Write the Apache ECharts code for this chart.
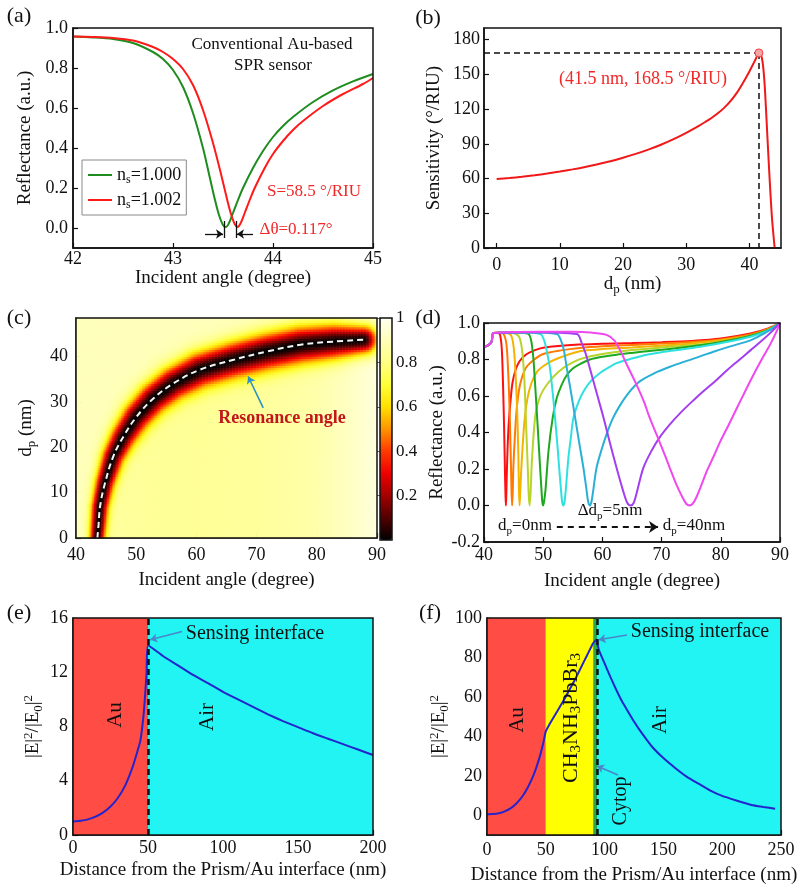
<!DOCTYPE html>
<html>
<head>
<meta charset="utf-8">
<script src="https://cdn.jsdelivr.net/npm/echarts@6.0.0/dist/echarts.min.js"></script>
<style>
  html, body { margin: 0; padding: 0; background: #fff; }
  #chart { width: 800px; height: 892px; }
</style>
</head>
<body>
<div id="chart"></div>
<script>
// ---------- (a) reflectance of the conventional Au sensor ----------
var aGreen = [[42.0,0.957],[42.2,0.953],[42.4,0.945],[42.6,0.925],[42.8,0.88],[42.9,0.845],[43.0,0.79],[43.1,0.705],[43.2,0.575],[43.3,0.4],[43.36,0.27],[43.42,0.14],[43.46,0.065],[43.5,0.015],[43.53,0.005],[43.56,0.025],[43.6,0.075],[43.65,0.14],[43.7,0.2],[43.8,0.3],[43.9,0.385],[44.0,0.455],[44.1,0.51],[44.2,0.555],[44.4,0.63],[44.6,0.688],[44.8,0.733],[45.0,0.77]];
var aRed = [[42.0,0.957],[42.2,0.955],[42.4,0.95],[42.6,0.937],[42.8,0.905],[42.9,0.88],[43.0,0.845],[43.1,0.795],[43.2,0.715],[43.3,0.59],[43.4,0.425],[43.48,0.27],[43.54,0.145],[43.58,0.07],[43.617,0.02],[43.647,0.005],[43.677,0.025],[43.717,0.075],[43.767,0.14],[43.817,0.2],[43.917,0.3],[44.0,0.37],[44.1,0.435],[44.2,0.49],[44.3,0.535],[44.5,0.61],[44.7,0.67],[44.9,0.72],[45.0,0.75]];
var aMinAngles = [43.51, 43.63];
var aXTicks = [42, 43, 44, 45];
var aYTicks = [0, 0.2, 0.4, 0.6, 0.8, 1.0];

// ---------- (b) sensitivity vs perovskite thickness ----------
var bSens = [[0,59.5],[2,60.4],[4,61.5],[6,62.8],[8,64.3],[10,66],[12,67.9],[14,70],[16,72.4],[18,75],[20,78],[22,81.3],[24,85],[26,89.2],[28,94],[30,99.5],[32,105.5],[33,108.8],[34,112.3],[35,116.3],[36,121],[37,126.8],[38,134],[39,142.8],[40,152.5],[40.5,157.8],[41,163.2],[41.5,168.5],[41.8,167.5],[42.1,160],[42.4,142],[42.7,112],[43.0,80],[43.3,50],[43.6,24],[44.0,0]];
var bPeak = [41.5, 168.5];
var bXTicks = [0, 10, 20, 30, 40];
var bYTicks = [0, 30, 60, 90, 120, 150, 180];

// ---------- (c) reflectance map ----------
var resDp    = [0, 3, 7, 12, 18, 22.4, 26.8, 30.8, 34.1, 37.1, 39.3, 41.1, 42.6, 43.3, 43.7];
var resAngle = [43.55, 43.75, 44.0, 44.8, 46.2, 47.9, 50.1, 52.9, 56.2, 60.6, 66.2, 71.7, 77.3, 82.8, 87.8];
var bandHalf = [7.5, 8, 8.5, 9.5, 11, 12.5, 14, 15, 16, 17, 17.5, 18, 18, 17, 14];
var bgAngle  = [40, 50, 60, 70, 80, 85, 90];
var bgBelow  = [0.85, 0.84, 0.83, 0.84, 0.87, 0.91, 0.96];
var bgAbove  = 0.9;
var cXTicks = [40, 50, 60, 70, 80, 90];
var cYTicks = [0, 10, 20, 30, 40];
var cBarTicks = [0.2, 0.4, 0.6, 0.8, 1];

// ---------- (d) reflectance for dp = 0..40 nm ----------
var dNames = ['0 nm','5 nm','10 nm','15 nm','20 nm','25 nm','30 nm','35 nm','40 nm'];
var dColors = ['#ff1010','#ff7a00','#f2b400','#b8d42a','#1fa81f','#2ee0e0','#2ab0d6','#a33ff0','#f048f0'];
var dCurve0 = [[40,0.87],[40.5,0.875],[41,0.885],[41.3,0.9],[41.6,0.945],[42.3,0.945],[42.7,0.935],[43.0,0.86],[43.2,0.68],[43.4,0.42],[43.55,0.17],[43.64,0.05],[43.7,0.0],[43.76,0.05],[43.85,0.17],[44.0,0.33],[44.2,0.46],[44.5,0.58],[44.8,0.67],[45.3,0.74],[46,0.79],[47,0.825],[48.5,0.85],[50,0.865],[56,0.882],[60,0.886],[65,0.89],[70,0.895],[75,0.902],[80,0.915],[85,0.942],[88,0.97],[90,1.0]];
var dCurve5 = [[40,0.87],[40.5,0.875],[41,0.885],[41.3,0.9],[41.6,0.945],[42.5,0.948],[43.3,0.94],[43.8,0.88],[44.1,0.72],[44.3,0.55],[44.5,0.3],[44.65,0.08],[44.75,0.0],[44.85,0.07],[44.95,0.2],[45.2,0.37],[45.5,0.52],[45.9,0.63],[46.4,0.7],[47.2,0.76],[48.5,0.8],[50,0.83],[53,0.85],[56.2,0.863],[60,0.872],[65,0.88],[70,0.887],[75,0.896],[80,0.91],[85,0.937],[88,0.967],[90,1.0]];
var dCurve10 = [[40,0.87],[40.5,0.875],[41,0.885],[41.3,0.9],[41.6,0.945],[43,0.948],[44.5,0.935],[45.0,0.87],[45.3,0.74],[45.6,0.52],[45.8,0.28],[45.9,0.09],[46.0,0.0],[46.12,0.07],[46.3,0.2],[46.8,0.45],[47.3,0.58],[48,0.67],[49,0.735],[50.3,0.77],[52,0.8],[56.2,0.845],[60,0.857],[65,0.866],[70,0.876],[75,0.888],[80,0.905],[85,0.932],[88,0.965],[90,1.0]];
var dCurve15 = [[40,0.87],[40.5,0.875],[41,0.885],[41.3,0.9],[41.6,0.945],[44,0.948],[45.8,0.93],[46.4,0.86],[46.8,0.7],[47.1,0.45],[47.4,0.2],[47.55,0.06],[47.7,0.0],[47.87,0.07],[48.1,0.25],[48.7,0.5],[49.5,0.6],[50.8,0.67],[52.5,0.73],[54.2,0.77],[56.5,0.805],[60,0.83],[65,0.852],[70,0.866],[75,0.878],[80,0.895],[85,0.928],[88,0.962],[90,1.0]];
var dCurve20 = [[40,0.87],[40.5,0.875],[41,0.885],[41.3,0.9],[41.6,0.945],[45,0.948],[47.5,0.94],[48.2,0.85],[48.6,0.68],[49.0,0.47],[49.4,0.25],[49.7,0.09],[49.85,0.02],[50.0,0.0],[50.17,0.025],[50.4,0.09],[50.9,0.3],[51.6,0.48],[52.3,0.59],[53.1,0.66],[54.0,0.715],[55.1,0.753],[56.2,0.775],[57.9,0.8],[60,0.815],[62.4,0.826],[65,0.836],[67.5,0.845],[70,0.853],[74.2,0.868],[78,0.885],[81.6,0.905],[85,0.93],[88,0.962],[90,1.0]];
var dCurve25 = [[40,0.87],[40.5,0.875],[41,0.885],[41.3,0.9],[41.6,0.945],[46,0.948],[49.5,0.94],[50.2,0.9],[50.7,0.83],[51.15,0.75],[51.6,0.62],[52.0,0.48],[52.4,0.33],[52.7,0.205],[53.0,0.09],[53.2,0.02],[53.4,0.0],[53.6,0.02],[53.8,0.08],[54.25,0.26],[54.7,0.38],[55.1,0.48],[56.0,0.57],[56.8,0.625],[58,0.68],[59.6,0.726],[61,0.755],[62.4,0.78],[65,0.805],[67.5,0.826],[70,0.84],[73.1,0.854],[77,0.872],[81.6,0.9],[85,0.925],[88,0.96],[90,1.0]];
var dCurve30 = [[40,0.87],[40.5,0.875],[41,0.885],[41.3,0.9],[41.6,0.945],[47,0.948],[52.3,0.94],[53.0,0.905],[53.5,0.85],[54.0,0.75],[54.7,0.62],[55.4,0.48],[56.1,0.34],[56.8,0.205],[57.3,0.09],[57.6,0.02],[57.9,0.0],[58.15,0.02],[58.4,0.07],[59.0,0.205],[59.8,0.3],[60.7,0.39],[61.8,0.48],[63.0,0.55],[64.5,0.62],[66.3,0.68],[68.8,0.725],[71.4,0.76],[74,0.79],[76.5,0.817],[79,0.845],[81.6,0.872],[85,0.905],[88,0.955],[90,1.0]];
var dCurve35 = [[40,0.87],[40.5,0.875],[41,0.885],[41.3,0.9],[41.6,0.945],[48,0.95],[55.7,0.94],[56.5,0.89],[57.2,0.83],[57.9,0.75],[59.0,0.62],[60.2,0.48],[61.3,0.34],[62.4,0.205],[63.5,0.08],[64.2,0.015],[64.8,0.0],[65.3,0.015],[65.8,0.07],[66.9,0.205],[68.3,0.3],[69.7,0.375],[71.4,0.445],[73.1,0.505],[75,0.565],[77,0.625],[79,0.68],[81,0.74],[83,0.795],[85,0.85],[87,0.905],[88.5,0.95],[90,1.0]];
var dCurve40 = [[40,0.87],[40.5,0.875],[41,0.885],[41.3,0.9],[41.6,0.945],[50,0.952],[55,0.952],[58,0.948],[60.7,0.935],[62,0.905],[63,0.85],[64.3,0.76],[65.8,0.66],[67,0.57],[68.0,0.48],[69.2,0.385],[70.3,0.297],[71.4,0.205],[72.5,0.114],[73.6,0.04],[74.2,0.008],[74.7,0.0],[75.2,0.008],[75.8,0.04],[76.7,0.11],[77.6,0.186],[78.8,0.27],[79.9,0.35],[81.3,0.44],[82.7,0.533],[84.1,0.625],[85.5,0.715],[86.9,0.8],[88.3,0.88],[89.5,0.96],[90,1.0]];
var dCurves = [dCurve0, dCurve5, dCurve10, dCurve15, dCurve20, dCurve25, dCurve30, dCurve35, dCurve40];
var dXTicks = [40, 50, 60, 70, 80, 90];
var dYTicks = [-0.2, 0, 0.2, 0.4, 0.6, 0.8, 1.0];

// ---------- (e) field in the conventional structure ----------
var eField = [[0,1.0],[5,1.05],[10,1.15],[15,1.35],[20,1.65],[25,2.1],[30,2.75],[35,3.7],[40,5.1],[43,6.2],[45,7.0],[47,8.8],[48,10.2],[49,11.9],[50,14.0],[60,13.2],[70,12.5],[80,11.8],[90,11.2],[100,10.55],[110,10.0],[120,9.45],[130,8.9],[140,8.4],[150,7.95],[160,7.5],[170,7.1],[180,6.7],[190,6.3],[200,5.9]];
var eLayers = [[0, 50, '#ff4d45'], [50, 200, '#22f4f4']];
var eInterface = 50;
var eXTicks = [0, 50, 100, 150, 200];
var eYTicks = [0, 4, 8, 12, 16];

// ---------- (f) field in the proposed structure ----------
var fField = [[0,0.5],[5,0.6],[10,1.0],[15,2.0],[20,3.5],[25,6.0],[30,9.5],[35,14.5],[40,21],[45,30],[48,37],[50,42.5],[55,48],[60,53],[65,58],[70,63.5],[75,69],[80,75],[85,81],[90,87],[93,89],[95,84],[100,77],[105,70],[110,63.5],[115,57.5],[120,52.5],[125,47.5],[130,43],[140,35],[150,29],[160,24],[170,19.5],[180,16],[190,12.5],[200,9.8],[212,7.5],[225,5.2],[235,4.2],[245,3.3]];
var fLayers = [[0, 50, '#ff4d45'], [50, 90.3, '#ffff00'], [90.3, 94, '#2ca64a'], [94, 250, '#22f4f4']];
var fInterface = 94;
var fXTicks = [0, 50, 100, 150, 200, 250];
var fYTicks = [0, 20, 40, 60, 80, 100];

// ---------- layout ----------
var FONT = "'Liberation Serif','Times New Roman',serif";
var INK = '#111';
var G = {
  a: {left: 73, top: 28, width: 300, height: 220},
  b: {left: 484, top: 28, width: 297, height: 220},
  c: {left: 76, top: 318, width: 301, height: 220},
  bar: {left: 380, top: 318, width: 12, height: 222},
  d: {left: 484, top: 323, width: 296, height: 219},
  e: {left: 73, top: 618, width: 300, height: 217},
  f: {left: 487, top: 618, width: 294, height: 217}
};

function rich(size, color, weight) {
  var sub = Math.round(size * 0.66);
  return {
    n: {fontFamily: FONT, fontSize: size, fontWeight: weight || 'normal', color: color, fill: color, lineHeight: size + 4, verticalAlign: 'middle'},
    b: {fontFamily: FONT, fontSize: sub, fontWeight: weight || 'normal', color: color, fill: color, lineHeight: sub, verticalAlign: 'bottom'},
    p: {fontFamily: FONT, fontSize: sub, fontWeight: weight || 'normal', color: color, fill: color, lineHeight: sub, verticalAlign: 'top'}
  };
}

function gridOf(r, border) {
  return {left: r.left, top: r.top, width: r.width, height: r.height, show: border !== false,
    borderColor: INK, borderWidth: 1.5, backgroundColor: 'transparent', z: 10,
    containLabel: false, outerBoundsMode: 'none'};
}

function axis(o) {
  return {
    type: 'value', gridIndex: o.g, min: o.min, max: o.max, position: o.pos,
    name: o.name || '', nameLocation: 'middle', nameGap: o.gap, nameRotate: o.rot || 0,
    nameTextStyle: {fontFamily: FONT, fontSize: 19, color: INK, rich: rich(19, INK)},
    axisLine: {show: true, onZero: false, lineStyle: {color: INK, width: 1.5}},
    axisTick: {show: true, inside: true, length: 5, customValues: o.ticks, lineStyle: {color: INK, width: 1.2}},
    axisLabel: {show: true, margin: o.margin, customValues: o.ticks, formatter: o.fmt,
      fontFamily: FONT, fontSize: 18, color: INK},
    splitLine: {show: false}
  };
}
function f1(v) { return v.toFixed(1); }
function f0(v) { return String(Math.round(v)); }

var heatX = [], heatY = [];
for (var a = 40.125; a < 90; a += 0.25) heatX.push(+a.toFixed(3));
for (var p = 0.25; p < 48.5; p += 0.5) heatY.push(+p.toFixed(3));
var kx = G.c.width / 50, ky = G.c.height / 48.5;

function lerp(xs, ys, x) {
  if (x <= xs[0]) return ys[0];
  for (var i = 1; i < xs.length; i++) {
    if (x <= xs[i]) return ys[i - 1] + (ys[i] - ys[i - 1]) * (x - xs[i - 1]) / (xs[i] - xs[i - 1]);
  }
  return ys[ys.length - 1];
}
function cellValue(ang, dp) {
  var px = (ang - 40) * kx, py = dp * ky, best = Infinity;
  for (var i = 0; i < resAngle.length - 1; i++) {
    var x1 = (resAngle[i] - 40) * kx, y1 = resDp[i] * ky;
    var dx = (resAngle[i + 1] - 40) * kx - x1, dy = resDp[i + 1] * ky - y1;
    var t = ((px - x1) * dx + (py - y1) * dy) / (dx * dx + dy * dy);
    t = Math.max(0, Math.min(1, t));
    var qx = x1 + t * dx - px, qy = y1 + t * dy - py;
    var s = bandHalf[i] + t * (bandHalf[i + 1] - bandHalf[i]);
    var q = Math.sqrt(qx * qx + qy * qy) / s;
    if (q < best) best = q;
  }
  var below = lerp(bgAngle, bgBelow, ang);
  var bg = (dp > resDp[resDp.length - 1] || ang < lerp(resDp, resAngle, dp)) ? Math.max(bgAbove, below) : below;
  return bg * (1 - Math.exp(-best * best));
}
var heatData = [];
for (var i = 0; i < heatX.length; i++) {
  for (var j = 0; j < heatY.length; j++) heatData.push([i, j, cellValue(heatX[i], heatY[j])]);
}
var resLine = resAngle.map(function (v, k) { return [v, resDp[k]]; });

// ---------- series ----------
var series = [];
series.push({name: 'ns=1.000', type: 'line', xAxisIndex: 0, yAxisIndex: 0, data: aGreen, smooth: 0.3,
  symbol: 'none', lineStyle: {color: '#1f8c1f', width: 2}, itemStyle: {color: '#1f8c1f'}, z: 3,
  markLine: {silent: true, symbol: 'none', label: {show: false}, lineStyle: {color: INK, width: 1.3, type: 'solid'},
    data: [
      [{coord: [aMinAngles[0], -0.05]}, {coord: [aMinAngles[0], 0.035]}],
      [{coord: [aMinAngles[1], -0.05]}, {coord: [aMinAngles[1], 0.035]}],
      [{coord: [43.32, -0.03], symbol: 'none'}, {coord: [aMinAngles[0] - 0.01, -0.03], symbol: 'arrow', symbolSize: 7}],
      [{coord: [43.8, -0.03], symbol: 'none'}, {coord: [aMinAngles[1] + 0.01, -0.03], symbol: 'arrow', symbolSize: 7}]
    ]}});
series.push({name: 'ns=1.002', type: 'line', xAxisIndex: 0, yAxisIndex: 0, data: aRed, smooth: 0.3,
  symbol: 'none', lineStyle: {color: '#ff1a1a', width: 2}, itemStyle: {color: '#ff1a1a'}, z: 3});

series.push({type: 'line', xAxisIndex: 1, yAxisIndex: 1, data: bSens, smooth: 0.3, symbol: 'none',
  lineStyle: {color: '#f01818', width: 2}, z: 3,
  markLine: {silent: true, symbol: 'none', label: {show: false}, lineStyle: {color: INK, width: 1.5, type: [6, 4]},
    data: [
      [{coord: [-2, bPeak[1]]}, {coord: [bPeak[0], bPeak[1]]}],
      [{coord: [bPeak[0], bPeak[1]]}, {coord: [bPeak[0], 0]}]
    ]},
  markPoint: {silent: true, symbol: 'circle', symbolSize: 8, label: {show: false},
    itemStyle: {color: '#f6a3a3', borderColor: '#f04040', borderWidth: 1},
    data: [{coord: bPeak}]}});

var heatIndex = series.length;
series.push({type: 'heatmap', xAxisIndex: 2, yAxisIndex: 2, data: heatData, progressive: 0, silent: true});

series.push({type: 'line', xAxisIndex: 3, yAxisIndex: 3, data: resLine, smooth: 0.4, symbol: 'none',
  lineStyle: {color: '#f4f4f4', width: 2, type: [6, 4]}, z: 4,
  markLine: {silent: true, label: {show: false}, lineStyle: {color: '#2a93c4', width: 1.6, type: 'solid'},
    data: [[{coord: [71.1, 28.7], symbol: 'none'}, {coord: [68.6, 35.6], symbol: 'arrow', symbolSize: 7}]]}});

dCurves.forEach(function (c, k) {
  var s = {name: dNames[k], type: 'line', xAxisIndex: 5, yAxisIndex: 5, data: c, smooth: 0.3, symbol: 'none',
    lineStyle: {color: dColors[k], width: 2}, z: 3};
  if (k === 0) {
    s.markLine = {silent: true, label: {show: false}, lineStyle: {color: INK, width: 2, type: [6, 5]},
      data: [[{coord: [52.3, -0.118], symbol: 'none'}, {coord: [69.4, -0.118], symbol: 'arrow', symbolSize: 9}]]};
  }
  series.push(s);
});

function layerSeries(idx, layers) {
  return {type: 'line', xAxisIndex: idx, yAxisIndex: idx, data: [], z: 1, silent: true,
    markArea: {silent: true, data: layers.map(function (l) {
      return [{xAxis: l[0], itemStyle: {color: l[2], opacity: 1}}, {xAxis: l[1]}];
    })}};
}
series.push(layerSeries(6, eLayers));
series.push({type: 'line', xAxisIndex: 6, yAxisIndex: 6, data: eField, smooth: 0.15, symbol: 'none',
  lineStyle: {color: '#2424cc', width: 2}, z: 3,
  markLine: {silent: true, label: {show: false}, symbol: 'none', data: [
    [{coord: [eInterface, 0], lineStyle: {color: INK, width: 2.5, type: [6, 4]}}, {coord: [eInterface, 16]}],
    [{coord: [72.7, 15.0], symbol: 'none', lineStyle: {color: '#4a86c8', width: 1.5, type: 'solid'}}, {coord: [51.5, 14.4], symbol: 'arrow', symbolSize: 7}]
  ]}});

series.push(layerSeries(7, fLayers));
series.push({type: 'line', xAxisIndex: 7, yAxisIndex: 7, data: fField, smooth: 0.15, symbol: 'none',
  lineStyle: {color: '#2424cc', width: 2}, z: 3,
  markLine: {silent: true, label: {show: false}, symbol: 'none', data: [
    [{coord: [fInterface, -10], lineStyle: {color: INK, width: 2.5, type: [6, 4]}}, {coord: [fInterface, 100]}],
    [{coord: [119, 91.4], symbol: 'none', lineStyle: {color: '#4a86c8', width: 1.5, type: 'solid'}}, {coord: [95, 89], symbol: 'arrow', symbolSize: 7}],
    [{coord: [111.4, 20.4], symbol: 'none', lineStyle: {color: '#4a86c8', width: 1.5, type: 'solid'}}, {coord: [93.5, 25], symbol: 'arrow', symbolSize: 7}]
  ]}});

// ---------- texts ----------
function txt(x, y, text, size, color, opts) {
  opts = opts || {};
  return {type: 'text', x: x, y: y, rotation: opts.rot || 0, z: 100, silent: true,
    style: {text: text, fill: color || INK, fontFamily: FONT, fontSize: size, fontWeight: opts.weight || 'normal',
      align: 'center', verticalAlign: 'middle', textAlign: 'center', textVerticalAlign: 'middle',
      rich: rich(size, color || INK, opts.weight)}};
}
var R90 = Math.PI / 2;
var graphics = [
  txt(19, 16, '(a)', 22), txt(428, 18, '(b)', 22), txt(19, 318, '(c)', 22),
  txt(428, 318, '(d)', 22), txt(19, 613, '(e)', 22), txt(430, 613, '(f)', 22),
  txt(272, 45, 'Conventional Au-based', 17), txt(273, 66, 'SPR sensor', 17),
  txt(314, 192, 'S=58.5 °/RIU', 17, '#f02828'), txt(296, 230, 'Δθ=0.117°', 17, '#f02828'),
  txt(643, 79, '(41.5 nm, 168.5 °/RIU)', 18, '#f02828'),
  txt(282, 418, 'Resonance angle', 18, '#c0161c', {weight: 'bold'}),
  txt(610, 511, '{n|Δd}{b|p}{n|=5nm}', 17),
  txt(525, 526, '{n|d}{b|p}{n|=0nm}', 17),
  txt(694, 526, '{n|d}{b|p}{n|=40nm}', 17),
  txt(115, 715, 'Au', 21, INK, {rot: R90}), txt(207, 717, 'Air', 21, INK, {rot: R90}),
  txt(255, 634, 'Sensing interface', 20),
  txt(517, 720, 'Au', 21, INK, {rot: R90}),
  txt(571, 718, '{n|CH}{b|3}{n|NH}{b|3}{n|PbBr}{b|3}', 22, INK, {rot: R90}),
  txt(621, 801, 'Cytop', 20, INK, {rot: R90}),
  txt(660, 720, 'Air', 21, INK, {rot: R90}),
  txt(700, 632, 'Sensing interface', 20)
];

var option = {
  animation: false,
  backgroundColor: '#fff',
  textStyle: {fontFamily: FONT},
  grid: [gridOf(G.a), gridOf(G.b), gridOf(G.c, false), gridOf(G.c), gridOf(G.bar), gridOf(G.d), gridOf(G.e), gridOf(G.f)],
  xAxis: [
    axis({g: 0, min: 42, max: 45, ticks: aXTicks, fmt: f0, margin: 2, name: 'Incident angle (degree)', gap: 16}),
    axis({g: 1, min: -2, max: 45, ticks: bXTicks, fmt: f0, margin: 8, name: '{n|d}{b|p}{n| (nm)}', gap: 21}),
    {type: 'category', gridIndex: 2, data: heatX, show: false, boundaryGap: true},
    axis({g: 3, min: 40, max: 90, ticks: cXTicks, fmt: f0, margin: 8, name: 'Incident angle (degree)', gap: 33}),
    {type: 'value', gridIndex: 4, show: false, min: 0, max: 1},
    axis({g: 5, min: 40, max: 90, ticks: dXTicks, fmt: f0, margin: 4, name: 'Incident angle (degree)', gap: 30}),
    axis({g: 6, min: 0, max: 200, ticks: eXTicks, fmt: f0, margin: 4, name: 'Distance from the Prism/Au interface (nm)', gap: 26}),
    axis({g: 7, min: 0, max: 250, ticks: fXTicks, fmt: f0, margin: 6, name: 'Distance from the Prism/Au interface (nm)', gap: 31})
  ],
  yAxis: [
    axis({g: 0, min: -0.1, max: 1.0, ticks: aYTicks, fmt: f1, margin: 5, name: 'Reflectance (a.u.)', gap: 38, rot: 90}),
    axis({g: 1, min: 0, max: 190, ticks: bYTicks, fmt: f0, margin: 4, name: 'Sensitivity (°/RIU)', gap: 40, rot: 90}),
    {type: 'category', gridIndex: 2, data: heatY, show: false, boundaryGap: true},
    axis({g: 3, min: 0, max: 48.5, ticks: cYTicks, fmt: f0, margin: 8, name: '{n|d}{b|p}{n| (nm)}', gap: 38, rot: 90}),
    {type: 'value', gridIndex: 4, position: 'right', min: 0, max: 1,
      axisLine: {show: false}, splitLine: {show: false},
      axisTick: {show: true, inside: true, length: 3, customValues: cBarTicks, lineStyle: {color: '#666'}},
      axisLabel: {show: true, margin: 4, customValues: cBarTicks, formatter: function (v) { return v === 1 ? '1' : v.toFixed(1); },
        fontFamily: FONT, fontSize: 17, color: INK}},
    axis({g: 5, min: -0.2, max: 1.0, ticks: dYTicks, fmt: f1, margin: 4, name: 'Reflectance (a.u.)', gap: 37, rot: 90}),
    axis({g: 6, min: 0, max: 16, ticks: eYTicks, fmt: f0, margin: 5, name: '{n||E|}{p|2}{n|/|E}{b|0}{n||}{p|2}', gap: 28, rot: 90}),
    axis({g: 7, min: -10, max: 100, ticks: fYTicks, fmt: f0, margin: 5, name: '{n||E|}{p|2}{n|/|E}{b|0}{n||}{p|2}', gap: 36, rot: 90})
  ],
  visualMap: {type: 'continuous', seriesIndex: heatIndex, min: 0, max: 1, show: true, calculable: false,
    left: G.bar.left, top: G.bar.top, itemWidth: G.bar.width, itemHeight: G.bar.height, padding: 0,
    orient: 'vertical', text: null, hoverLink: false,
    inRange: {color: ['#000000', '#520000', '#a30000', '#ef0000', '#ff3a00', '#ff9400', '#ffe000', '#ffff38', '#ffff84', '#ffffba', '#fffff2']}},
  legend: {data: ['ns=1.000', 'ns=1.002'], left: 82, top: 160, orient: 'vertical', itemWidth: 24, itemHeight: 12,
    itemGap: 5, padding: [6, 5, 4, 6], borderColor: '#8a8a8a', borderWidth: 1, backgroundColor: '#fff',
    selectedMode: false, icon: 'path://M0,5 L24,5 L24,7 L0,7 Z',
    formatter: function (name) { return '{n|n}{b|s}{n|' + name.slice(2) + '}'; },
    textStyle: {fontFamily: FONT, fontSize: 18, color: INK, rich: rich(18, INK)}},
  graphic: graphics,
  series: series
};

var chart = echarts.init(document.getElementById('chart'), null, {renderer: 'canvas'});
chart.setOption(option);
</script>
</body>
</html>
